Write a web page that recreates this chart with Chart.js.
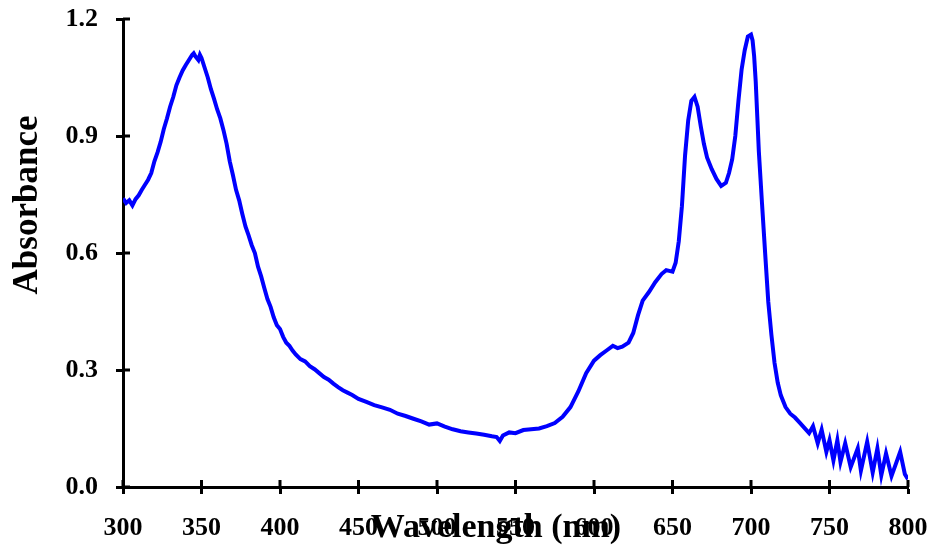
<!DOCTYPE html>
<html>
<head>
<meta charset="utf-8">
<script src="https://cdn.jsdelivr.net/npm/chart.js@4.4.1/dist/chart.umd.min.js"></script>
<style>
  body { margin: 0; background: #fff; }
  #wrap { width: 933px; height: 545px; }
</style>
</head>
<body>
<div id="wrap"><canvas id="espectro" width="933" height="545"></canvas></div>
<script>
// datos del espectro
const longitudOnda = [
  300, 302, 304, 306, 308, 310, 312, 314, 316, 318, 320, 322, 324, 326, 328,
  330, 332, 334, 336, 338, 340, 342, 344, 345, 346, 348, 349, 350, 352, 354,
  356, 358, 360, 362, 364, 366, 368, 370, 372, 374, 376, 378, 380, 382, 384,
  386, 388, 390, 392, 394, 396, 398, 400, 402, 404, 406, 408, 410, 413, 416,
  419, 422, 425, 428, 431, 434, 437, 440, 443, 446, 450, 455, 460, 465, 470,
  475, 480, 485, 490, 495, 500, 505, 510, 515, 520, 525, 530, 535, 538, 540,
  542, 546, 550, 555, 560, 565, 570, 575, 580, 585, 590, 595, 600, 604, 608,
  612, 615, 618, 622, 625, 628, 631, 635, 639, 643, 646, 650, 652, 654, 656,
  658, 660, 662, 664, 666, 668, 670, 672, 675, 678, 681, 684, 686, 688, 690,
  692, 694, 696, 698, 700, 701, 702, 703, 704, 705, 707, 709, 711, 713, 715,
  717, 719, 722, 725, 728, 731, 733, 737, 739.5, 742.5, 745, 748, 750, 752.5,
  755, 757, 760, 763.5, 768, 770, 774, 777.5, 780.5, 783, 786, 789.5, 795,
  798, 800
];
const absorbancia = [
  0.740, 0.728, 0.735, 0.722, 0.738, 0.748, 0.762, 0.775, 0.788, 0.805, 0.835,
  0.858, 0.885, 0.918, 0.945, 0.975, 1.000, 1.030, 1.050, 1.068, 1.082, 1.095,
  1.108, 1.112, 1.105, 1.095, 1.108, 1.100, 1.075, 1.050, 1.020, 0.995, 0.968,
  0.945, 0.915, 0.880, 0.835, 0.800, 0.762, 0.735, 0.700, 0.668, 0.645, 0.620,
  0.600, 0.565, 0.540, 0.510, 0.482, 0.462, 0.435, 0.415, 0.405, 0.385, 0.370,
  0.362, 0.350, 0.340, 0.328, 0.322, 0.310, 0.302, 0.292, 0.282, 0.275, 0.265,
  0.256, 0.248, 0.242, 0.236, 0.226, 0.218, 0.210, 0.204, 0.198, 0.188, 0.182,
  0.175, 0.168, 0.160, 0.163, 0.155, 0.148, 0.143, 0.140, 0.137, 0.134, 0.130,
  0.128, 0.118, 0.132, 0.140, 0.138, 0.146, 0.148, 0.150, 0.156, 0.164, 0.180,
  0.205, 0.245, 0.292, 0.324, 0.338, 0.350, 0.362, 0.356, 0.360, 0.370, 0.395,
  0.440, 0.478, 0.500, 0.525, 0.546, 0.556, 0.552, 0.575, 0.630, 0.720, 0.850,
  0.940, 0.990, 1.000, 0.975, 0.925, 0.880, 0.845, 0.815, 0.790, 0.772, 0.780,
  0.805, 0.840, 0.900, 0.990, 1.070, 1.120, 1.155, 1.160, 1.145, 1.105, 1.040,
  0.950, 0.860, 0.728, 0.600, 0.475, 0.390, 0.318, 0.268, 0.235, 0.205, 0.188,
  0.178, 0.165, 0.156, 0.138, 0.156, 0.112, 0.147, 0.090, 0.120, 0.068, 0.120,
  0.064, 0.112, 0.051, 0.099, 0.042, 0.116, 0.037, 0.099, 0.030, 0.086, 0.028,
  0.090, 0.033, 0.020
];
const ticksX = [300, 350, 400, 450, 500, 550, 600, 650, 700, 750, 800];
const ticksY = [0.0, 0.3, 0.6, 0.9, 1.2];
const tituloX = "Wavelength (nm)";
const tituloY = "Absorbance";

const fuente = "'Liberation Serif', 'Times New Roman', serif";

// marcas hacia dentro y titulos de ejes
const extras = {
  id: "extras",
  afterDraw(chart) {
    const ctx = chart.ctx;
    const sx = chart.scales.x;
    const sy = chart.scales.y;
    const area = chart.chartArea;
    ctx.save();
    ctx.strokeStyle = "#000";
    ctx.lineWidth = 3;
    ticksX.forEach(function (v) {
      const px = sx.getPixelForValue(v);
      ctx.beginPath();
      ctx.moveTo(px, area.bottom);
      ctx.lineTo(px, area.bottom - 7);
      ctx.stroke();
    });
    ticksY.forEach(function (v) {
      const py = sy.getPixelForValue(v);
      ctx.beginPath();
      ctx.moveTo(area.left, py);
      ctx.lineTo(area.left + 7, py);
      ctx.stroke();
    });
    ctx.fillStyle = "#000";
    ctx.textAlign = "center";
    ctx.textBaseline = "alphabetic";
    ctx.font = "bold 34px " + fuente;
    ctx.fillText(tituloX, 496, 537);
    ctx.translate(37, 205);
    ctx.rotate(-Math.PI / 2);
    ctx.font = "bold 35px " + fuente;
    ctx.fillText(tituloY, 0, 0);
    ctx.restore();
  },
};

const ctxEspectro = document.getElementById("espectro").getContext("2d");
const grafica = new Chart(ctxEspectro, {
  type: "scatter",
  data: {
    datasets: [
      {
        label: tituloY,
        data: longitudOnda.map((x, i) => ({ x: x, y: absorbancia[i] })),
        showLine: true,
        borderColor: "#0000ff",
        backgroundColor: "#0000ff",
        borderWidth: 4,
        pointRadius: 0,
        tension: 0,
      },
    ],
  },
  options: {
    responsive: false,
    animation: false,
    layout: { padding: { top: 19, right: 25, left: 0, bottom: 0 } },
    plugins: {
      legend: { display: false },
      tooltip: { enabled: false },
    },
    scales: {
      x: {
        type: "linear",
        min: 300,
        max: 800,
        afterBuildTicks: function (scale) {
          scale.ticks = ticksX.map((v) => ({ value: v }));
        },
        afterFit: function (scale) {
          scale.height = 58;
          scale.paddingLeft = 0;
          scale.paddingRight = 0;
        },
        ticks: {
          color: "#000",
          font: { family: fuente, size: 26, weight: "bold" },
          padding: 19,
          maxRotation: 0,
          callback: (v) => String(v),
        },
        grid: {
          drawOnChartArea: false,
          drawTicks: true,
          tickLength: 7,
          tickWidth: 3,
          tickColor: "#000",
        },
        border: { display: true, color: "#000", width: 3 },
      },
      y: {
        min: 0,
        max: 1.2,
        afterBuildTicks: function (scale) {
          scale.ticks = ticksY.map((v) => ({ value: v }));
        },
        afterFit: function (scale) {
          scale.width = 123;
          scale.paddingTop = 0;
          scale.paddingBottom = 0;
        },
        ticks: {
          color: "#000",
          font: { family: fuente, size: 26, weight: "bold" },
          padding: 18,
          callback: (v) => Number(v).toFixed(1),
        },
        grid: {
          drawOnChartArea: false,
          drawTicks: true,
          tickLength: 7,
          tickWidth: 3,
          tickColor: "#000",
        },
        border: { display: true, color: "#000", width: 3 },
      },
    },
  },
  plugins: [extras],
});
</script>
</body>
</html>
